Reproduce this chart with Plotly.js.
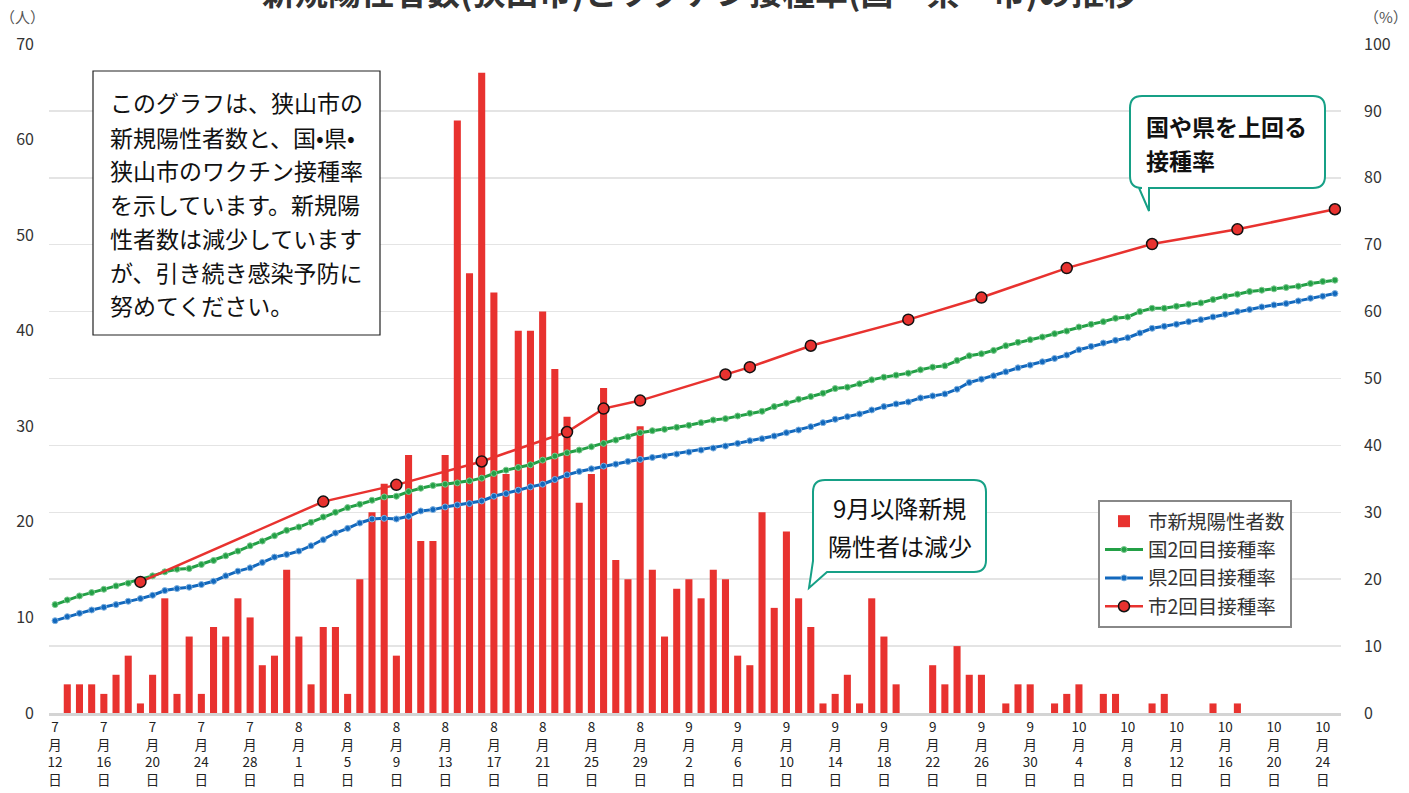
<!DOCTYPE html>
<html><head><meta charset="utf-8">
<script src="https://cdn.plot.ly/plotly-3.0.1.min.js"></script>
<style>html,body{margin:0;padding:0;background:#fff}#chart{width:1409px;height:793px}</style>
</head><body><div id="chart"></div>
<script>
const dates = [
 '7/12','7/13','7/14','7/15','7/16','7/17','7/18','7/19','7/20','7/21','7/22','7/23','7/24','7/25','7/26','7/27','7/28','7/29','7/30','7/31',
 '8/1','8/2','8/3','8/4','8/5','8/6','8/7','8/8','8/9','8/10','8/11','8/12','8/13','8/14','8/15','8/16','8/17','8/18','8/19','8/20','8/21','8/22','8/23','8/24','8/25','8/26','8/27','8/28','8/29','8/30','8/31',
 '9/1','9/2','9/3','9/4','9/5','9/6','9/7','9/8','9/9','9/10','9/11','9/12','9/13','9/14','9/15','9/16','9/17','9/18','9/19','9/20','9/21','9/22','9/23','9/24','9/25','9/26','9/27','9/28','9/29','9/30',
 '10/1','10/2','10/3','10/4','10/5','10/6','10/7','10/8','10/9','10/10','10/11','10/12','10/13','10/14','10/15','10/16','10/17','10/18','10/19','10/20','10/21','10/22','10/23','10/24','10/25'
];
const cases = [
 0,3,3,3,2,4,6,1,4,12,2,8,2,9,8,12,10,5,6,15,
 8,3,9,9,2,14,21,24,6,27,18,18,27,62,46,67,44,25,40,40,42,36,31,22,25,34,16,14,30,15,8,
 13,14,12,15,14,6,5,21,11,19,12,9,1,2,4,1,12,8,3,0,0,5,3,7,4,4,0,1,3,3,
 0,1,2,3,0,2,2,0,0,1,2,0,0,0,1,0,1,0,0,0,0,0,0,0,0
];
const nationalRate = [
 16.2,16.9,17.5,18.0,18.5,19.0,19.4,19.9,20.5,21.1,21.5,21.6,22.2,22.8,23.5,24.2,25.0,25.7,26.5,27.3,27.8,
 28.5,29.3,30.0,30.7,31.2,31.8,32.3,32.4,33.1,33.6,34.0,34.2,34.4,34.7,35.1,35.8,36.3,36.7,37.1,37.8,38.4,
 38.9,39.3,39.8,40.3,40.8,41.3,41.9,42.2,42.4,42.7,43.0,43.4,43.8,44.0,44.4,44.8,45.1,45.8,46.3,46.9,47.3,47.8,
 48.5,48.7,49.2,49.8,50.2,50.5,50.8,51.3,51.7,51.9,52.7,53.4,53.7,54.2,54.9,55.4,55.8,56.2,56.7,57.1,57.7,58.1,
 58.5,59.0,59.2,60.0,60.5,60.5,60.8,61.1,61.3,61.8,62.3,62.6,63.0,63.2,63.4,63.6,63.8,64.2,64.5,64.7
];
const prefRate = [
 13.8,14.4,14.9,15.4,15.8,16.2,16.7,17.1,17.6,18.3,18.6,18.8,19.2,19.7,20.5,21.2,21.7,22.5,23.3,23.7,24.2,
 25.0,25.9,26.9,27.6,28.4,29.0,29.1,29.0,29.4,30.2,30.4,30.8,31.1,31.3,31.7,32.4,32.8,33.3,33.8,34.2,34.9,
 35.6,36.1,36.5,36.9,37.2,37.6,37.9,38.2,38.4,38.7,39.0,39.3,39.6,39.9,40.3,40.7,41.0,41.4,41.9,42.3,42.8,43.4,
 43.9,44.3,44.7,45.3,45.8,46.2,46.5,47.1,47.4,47.7,48.4,49.4,49.9,50.4,51.0,51.6,52.0,52.5,53.0,53.5,54.3,54.8,
 55.3,55.7,56.1,56.8,57.5,57.8,58.1,58.5,58.8,59.2,59.6,60.0,60.3,60.7,61.0,61.2,61.6,62.0,62.3,62.7
];
const cityDates = ['7/19','8/3','8/9','8/16','8/23','8/26','8/29','9/5','9/7','9/12','9/20','9/26','10/3','10/10','10/17','10/25'];
const cityRate = [19.6,31.6,34.1,37.6,42.0,45.5,46.7,50.6,51.7,54.9,58.8,62.1,66.5,70.1,72.3,75.3];
const tickDates = ['7/12','7/16','7/20','7/24','7/28','8/1','8/5','8/9','8/13','8/17','8/21','8/25','8/29','9/2','9/6','9/10','9/14','9/18','9/22','9/26','9/30','10/4','10/8','10/12','10/16','10/20','10/24'];
const seriesNames = ['市新規陽性者数','国2回目接種率','県2回目接種率','市2回目接種率'];
const titleText = '新規陽性者数(狭山市)とワクチン接種率(国・県・市)の推移';
const noteLines = ['このグラフは、狭山市の','新規陽性者数と、国•県•','狭山市のワクチン接種率','を示しています。新規陽','性者数は減少しています','が、引き続き感染予防に','努めてください。'];
const callout1 = ['9月以降新規','陽性者は減少'];
const callout2 = ['国や県を上回る','接種率'];

const tickText = tickDates.map(d => { const p = d.split('/'); return p[0] + '<br>月<br>' + p[1] + '<br>日'; });

const FONT = '"Noto Sans CJK JP", "Noto Sans", sans-serif';
const W = 1409, H = 793, L = 49, R = 1341, T = 44, B = 713;
const px = x => (x - L) / (R - L);
const py = y => (B - y) / (B - T);

function roundedBubble(l, t, r, b, rad, tail) {
  let p = `M${px(l+rad)},${py(t)} L${px(r-rad)},${py(t)} Q${px(r)},${py(t)} ${px(r)},${py(t+rad)} L${px(r)},${py(b-rad)} Q${px(r)},${py(b)} ${px(r-rad)},${py(b)}`;
  tail.forEach(q => { p += ` L${px(q[0])},${py(q[1])}`; });
  return p;
}

const traces = [
  {type:'bar', x:dates, y:cases, name:seriesNames[0], yaxis:'y', marker:{color:'#e8322f'}},
  {type:'scatter', mode:'lines+markers', x:dates, y:nationalRate, name:seriesNames[1], yaxis:'y2',
   line:{color:'#23a046', width:3}, marker:{size:6, color:'#23a046', line:{color:'#7cc98f', width:1}}},
  {type:'scatter', mode:'lines+markers', x:dates, y:prefRate, name:seriesNames[2], yaxis:'y2',
   line:{color:'#1268bd', width:3}, marker:{size:6, color:'#1268bd', line:{color:'#7fb2e0', width:1}}},
  {type:'scatter', mode:'lines+markers', x:cityDates, y:cityRate, name:seriesNames[3], yaxis:'y2',
   line:{color:'#e8322f', width:2.5}, marker:{size:11, color:'#e8322f', line:{color:'#111', width:1.5}}}
];

const c1 = {l:813, t:480, r:986, b:572, rad:12};
let path1 = roundedBubble(c1.l, c1.t, c1.r, c1.b, c1.rad, [[827, c1.b],[809, 588],[c1.l, 561]]);
path1 += ` L${px(c1.l)},${py(c1.t+c1.rad)} Q${px(c1.l)},${py(c1.t)} ${px(c1.l+c1.rad)},${py(c1.t)} Z`;
const c2 = {l:1130, t:96, r:1325, b:188, rad:12};
let path2 = roundedBubble(c2.l, c2.t, c2.r, c2.b, c2.rad, [[1149, c2.b],[1149, 211],[1139, c2.b],[c2.l+c2.rad, c2.b]]);
path2 += ` Q${px(c2.l)},${py(c2.b)} ${px(c2.l)},${py(c2.b-c2.rad)} L${px(c2.l)},${py(c2.t+c2.rad)} Q${px(c2.l)},${py(c2.t)} ${px(c2.l+c2.rad)},${py(c2.t)} Z`;

const shapes = [
  {type:'rect', xref:'paper', yref:'paper', x0:px(93), x1:px(380), y0:py(335), y1:py(71),
   line:{color:'#222', width:1.2}, fillcolor:'#ffffff', layer:'above'},
  {type:'path', xref:'paper', yref:'paper', path:path1, line:{color:'#16a086', width:2}, fillcolor:'#ffffff', layer:'above'},
  {type:'path', xref:'paper', yref:'paper', path:path2, line:{color:'#16a086', width:2}, fillcolor:'#ffffff', layer:'above'}
];

const annotations = [
  {text:'<b>'+titleText+'</b>', xref:'paper', yref:'paper', x:px(699), y:py(-9), xanchor:'center', yanchor:'middle', showarrow:false, font:{size:33, color:'#333', family:FONT}},
  {text:'（人）', xref:'paper', yref:'paper', x:px(22), y:py(16), xanchor:'center', yanchor:'middle', showarrow:false, font:{size:15, color:'#555', family:FONT}},
  {text:'（%）', xref:'paper', yref:'paper', x:px(1386), y:py(16), xanchor:'center', yanchor:'middle', showarrow:false, font:{size:15, color:'#555', family:FONT}}
];
const noteY = [102,137,170,204,238,272,305];
noteLines.forEach((s,i) => annotations.push({text:s, xref:'paper', yref:'paper', x:px(108), y:py(noteY[i]), xanchor:'left', yanchor:'middle', showarrow:false, font:{size:23, color:'#111', family:FONT}}));
[507,545].forEach((yy,i) => annotations.push({text:callout1[i], xref:'paper', yref:'paper', x:px(900), y:py(yy), xanchor:'center', yanchor:'middle', showarrow:false, font:{size:24, color:'#111', family:FONT}}));
[126,160].forEach((yy,i) => annotations.push({text:'<b>'+callout2[i]+'</b>', xref:'paper', yref:'paper', x:px(1144), y:py(yy), xanchor:'left', yanchor:'middle', showarrow:false, font:{size:23, color:'#111', family:FONT}}));

const layout = {
  width:W, height:H, margin:{l:L, r:W-R, t:T, b:H-B, pad:0},
  paper_bgcolor:'#fff', plot_bgcolor:'#fff', showlegend:true, bargap:0.42,
  font:{family:FONT, color:'#222'},
  xaxis:{type:'category', categoryorder:'array', categoryarray:dates, range:[-0.5, dates.length-0.5],
    tickmode:'array', tickvals:tickDates, ticktext:tickText, showgrid:false, zeroline:false,
    showline:true, linecolor:'#d4d4d4', linewidth:3, ticks:'', tickfont:{size:13.5, color:'#222', family:FONT}},
  yaxis:{range:[0,70], dtick:10, tick0:0, showgrid:false, zeroline:false, ticks:'', ticklabelstandoff:14,
    tickfont:{size:16, color:'#333', family:FONT}},
  yaxis2:{range:[0,100], dtick:10, tick0:0, overlaying:'y', side:'right', showgrid:true, gridcolor:'#e4e4e4', gridwidth:1.5,
    zeroline:false, ticks:'', ticklabelstandoff:22, tickfont:{size:16, color:'#333', family:FONT}},
  legend:{x:px(1098), y:py(500), xanchor:'left', yanchor:'top', bgcolor:'#fff', bordercolor:'#888', borderwidth:2,
    font:{size:19.5, color:'#333', family:FONT}, traceorder:'normal', itemwidth:38},
  shapes:shapes, annotations:annotations
};
Plotly.newPlot('chart', traces, layout, {displayModeBar:false, staticPlot:true});
</script></body></html>
